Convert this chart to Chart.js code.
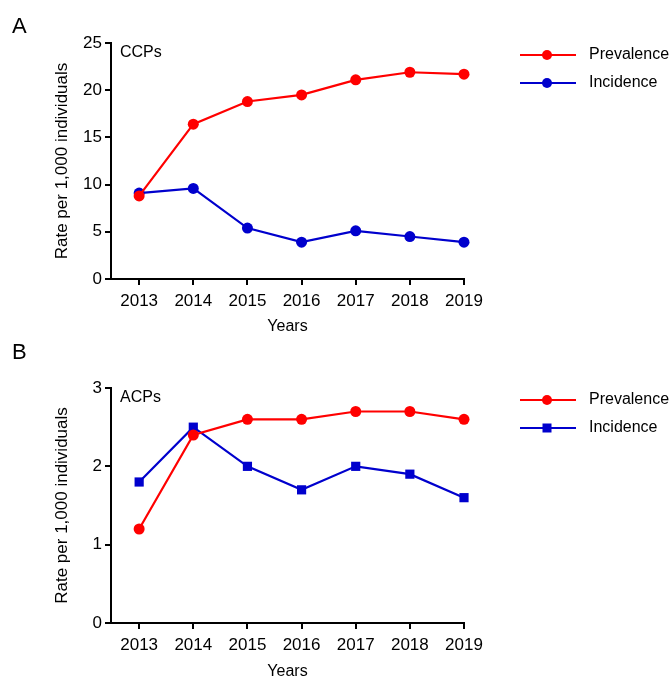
<!DOCTYPE html>
<html>
<head>
<meta charset="utf-8">
<script src="https://cdn.jsdelivr.net/npm/chart.js@4.4.1/dist/chart.umd.min.js"></script>
<style>
  body { margin: 0; background: #fff; }
  .wrap { position: relative; width: 671px; height: 680px; }
  .panel { position: absolute; left: 0; width: 671px; height: 340px; }
</style>
</head>
<body>
<div class="wrap">
  <div class="panel" style="top:0"><canvas id="chartA"></canvas></div>
  <div class="panel" style="top:340px"><canvas id="chartB"></canvas></div>
</div>
<script>
// x categories
const years = [2013, 2014, 2015, 2016, 2017, 2018, 2019];

// panel A: CCPs
const ccpPrevalence = [8.8, 16.4, 18.8, 19.5, 21.1, 21.9, 21.7];
const ccpIncidence = [9.1, 9.6, 5.4, 3.9, 5.1, 4.5, 3.9];

// panel B: ACPs
const acpPrevalence = [1.2, 2.4, 2.6, 2.6, 2.7, 2.7, 2.6];
const acpIncidence = [1.8, 2.5, 2.0, 1.7, 2.0, 1.9, 1.6];

const RED = '#ff0000';
const BLUE = '#0000cd';
const FONT = 'Liberation Sans, Arial, sans-serif';

const toPoints = vals => vals.map((v, i) => ({ x: years[i], y: v }));

// panel letter, group label and a legend with line + marker
const extrasPlugin = {
  id: 'extras',
  afterDraw(chart, args, opts) {
    const ctx = chart.ctx;
    const area = chart.chartArea;
    ctx.save();
    ctx.fillStyle = '#000';
    ctx.textBaseline = 'middle';
    ctx.font = '22px ' + FONT;
    ctx.fillText(opts.letter, 12, opts.letterY);
    ctx.font = '16px ' + FONT;
    ctx.fillText(opts.group, area.left + 9, area.top + 10);

    chart.data.datasets.forEach((ds, i) => {
      const y = opts.legendY + i * 28;
      ctx.strokeStyle = ds.borderColor;
      ctx.fillStyle = ds.borderColor;
      ctx.lineWidth = 2;
      ctx.beginPath();
      ctx.moveTo(520, y);
      ctx.lineTo(576, y);
      ctx.stroke();
      if (ds.pointStyle === 'rect') {
        ctx.fillRect(547 - 4.5, y - 4.5, 9, 9);
      } else {
        ctx.beginPath();
        ctx.arc(547, y, 5, 0, Math.PI * 2);
        ctx.fill();
      }
      ctx.fillStyle = '#000';
      ctx.font = '16px ' + FONT;
      ctx.fillText(ds.label, 589, y);
    });
    ctx.restore();
  }
};

function makeChart(id, cfg) {
  const series = (label, data, color, style, r) => ({
    label: label,
    data: toPoints(data),
    borderColor: color,
    backgroundColor: color,
    borderWidth: 2.2,
    pointStyle: style,
    pointRadius: r,
    pointHoverRadius: r,
    pointBorderWidth: 0,
    clip: false
  });

  return new Chart(document.getElementById(id), {
    type: 'line',
    data: {
      datasets: [
        series('Prevalence', cfg.prevalence, RED, 'circle', 5.5),
        series('Incidence', cfg.incidence, BLUE, cfg.incStyle, cfg.incRadius)
      ]
    },
    options: {
      responsive: false,
      animation: false,
      layout: { padding: { left: 48, top: cfg.top, right: 207, bottom: 0 } },
      plugins: {
        legend: { display: false },
        tooltip: { enabled: false },
        extras: { letter: cfg.letter, letterY: cfg.letterY, group: cfg.group, legendY: cfg.legendY }
      },
      scales: {
        x: {
          type: 'linear',
          min: 2012.48,
          max: 2019,
          afterBuildTicks: s => { s.ticks = years.map(v => ({ value: v })); },
          afterFit: s => { s.height = cfg.xHeight; },
          border: { color: '#000', width: 2 },
          grid: { drawOnChartArea: false, color: '#000', lineWidth: 2, tickLength: 6 },
          ticks: { color: '#000', padding: 6, font: { family: FONT, size: 17 }, maxRotation: 0, callback: v => String(v) },
          title: { display: true, text: 'Years', color: '#000', font: { family: FONT, size: 16, lineHeight: 1 }, padding: { top: 0, bottom: cfg.titlePad } }
        },
        y: {
          min: 0,
          max: cfg.yMax,
          afterFit: s => { s.width = 63; },
          border: { color: '#000', width: 2 },
          grid: { drawOnChartArea: false, color: '#000', lineWidth: 2, tickLength: 6 },
          ticks: { color: '#000', stepSize: cfg.step, padding: 3, font: { family: FONT, size: 17 } },
          title: { display: true, text: 'Rate per 1,000 individuals', color: '#000', font: { family: FONT, size: 17 } }
        }
      }
    },
    plugins: [extrasPlugin]
  });
}

function sizeCanvas(id) {
  const c = document.getElementById(id);
  c.width = 671;
  c.height = 340;
  c.style.width = '671px';
  c.style.height = '340px';
}
sizeCanvas('chartA');
sizeCanvas('chartB');

makeChart('chartA', {
  prevalence: ccpPrevalence, incidence: ccpIncidence,
  incStyle: 'circle', incRadius: 5.5,
  yMax: 25, step: 5, top: 43, xHeight: 61, titlePad: 5,
  letter: 'A', letterY: 27, group: 'CCPs', legendY: 55
});

makeChart('chartB', {
  prevalence: acpPrevalence, incidence: acpIncidence,
  incStyle: 'rect', incRadius: 6.5,
  yMax: 3, step: 1, top: 48, xHeight: 57, titlePad: 0,
  letter: 'B', letterY: 13, group: 'ACPs', legendY: 60
});
</script>
</body>
</html>
